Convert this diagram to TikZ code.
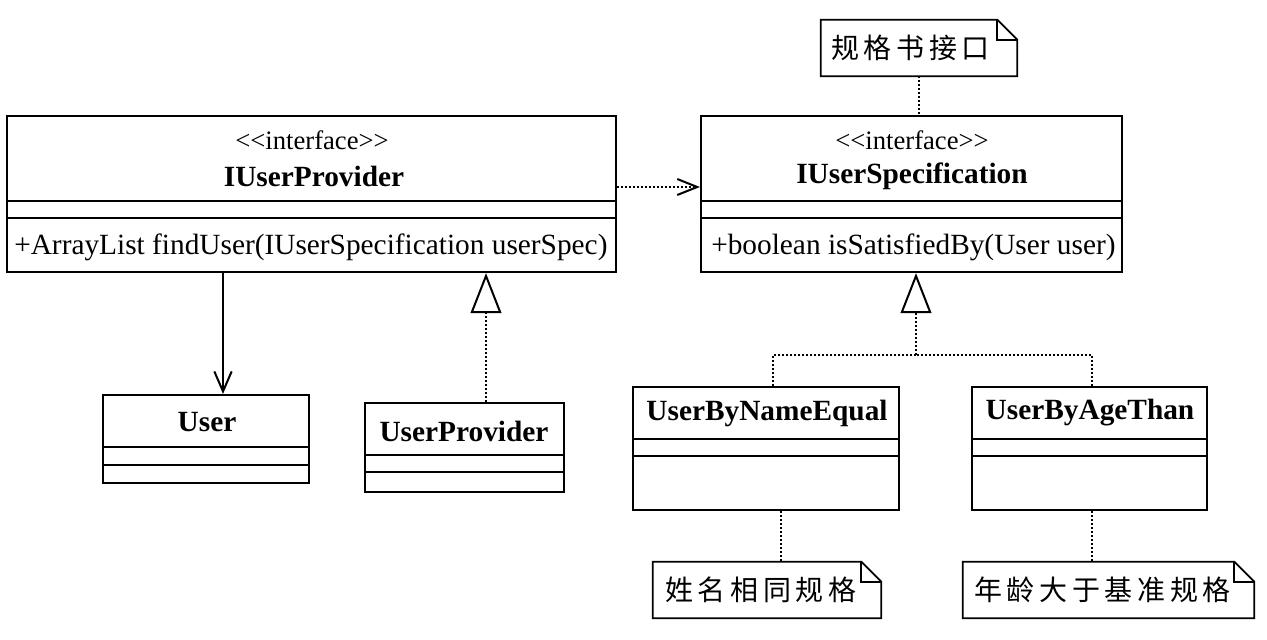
\documentclass[tikz,border=0pt]{standalone}
\usepackage{fontspec}
\setmainfont{Liberation Serif}
\newfontfamily\cjk{Noto Sans CJK SC}
\usetikzlibrary{arrows.meta,fit}
\begin{document}
\begin{tikzpicture}[x=0.75pt,y=-0.75pt,
  box/.style={draw, line width=1.6pt, inner sep=0pt},
  sepline/.style={line width=1.6pt},
  dots/.style={line width=1.5pt, dash pattern=on 1.5pt off 1.5pt},
  notebd/.style={line width=1.3pt, line join=miter},
  stereo/.style={font=\fontsize{20}{22}\selectfont, inner sep=0pt},
  cname/.style={font=\fontsize{22}{26}\selectfont\bfseries, inner sep=0pt},
  member/.style={font=\fontsize{22}{26}\selectfont, anchor=west, inner sep=0pt},
  notetxt/.style={font=\cjk\fontsize{21}{24}\selectfont, anchor=west, inner sep=0pt},
  assoc/.style={line width=1.5pt, -{Straight Barb[length=15pt,width=13pt,line width=1.5pt]}},
  depend/.style={dots, -{Straight Barb[length=15pt,width=12pt,line width=1.5pt]}},
  realize/.style={dots, -{Triangle[open,length=30pt,width=23pt,line width=1.5pt]}}
]
\useasboundingbox (0,0) rectangle (1267,639);
% helper x positions
\coordinate (xa) at (223,0);
\coordinate (xr) at (486,0);
\coordinate (xt) at (916,0);
\coordinate (xn2) at (781,0);
\coordinate (xn3) at (1092,0);
\coordinate (xl) at (773,0);
\coordinate (yd) at (0,187);
\coordinate (j) at (916,355);

% ---- class boxes ----
\node[box, fit={(7,116) (616,272)}] (iup) {};
\node[box, fit={(701,116) (1122,272)}] (ius) {};
\node[box, fit={(103,395) (309,483)}] (user) {};
\node[box, fit={(365,403) (564,492)}] (up) {};
\node[box, fit={(633,387) (899,510)}] (ubn) {};
\node[box, fit={(972,387) (1207,510)}] (uba) {};

% separators
\foreach \b/\ya/\yb in {iup/201/218, ius/201/218, user/447/465, up/455/472, ubn/439/456, uba/439/456}{
  \draw[sepline] (\b.west |- 0,\ya) -- (\b.east |- 0,\ya);
  \draw[sepline] (\b.west |- 0,\yb) -- (\b.east |- 0,\yb);
}

% texts
\node[stereo] (iups) at (312,140) {<{}<interface>{}>};
\node[cname] (iupn) at (314,176) {IUserProvider};
\node[member] (iupm) at (14,247) {+ArrayList findUser(IUserSpecification userSpec)};
\node[stereo] (iuss) at (912,140) {<{}<interface>{}>};
\node[cname] (iusn) at (912,176) {IUserSpecification};
\node[member] (iusm) at (711,247) {+boolean isSatisfiedBy(User user)};
\node[cname] (usern) at (207,422) {User};
\node[cname] (upn) at (464,431) {UserProvider};
\node[cname] (ubnn) at (767,413) {UserByNameEqual};
\node[cname] (uban) at (1090,413) {UserByAgeThan};

% ---- notes ----
\node[inner sep=0pt, fit={(821,20) (1017,76)}] (n1) {};
\node[inner sep=0pt, fit={(653,562) (881,618)}] (n2) {};
\node[inner sep=0pt, fit={(963,562) (1254,618)}] (n3) {};
\foreach \n in {n1,n2,n3}{
  \draw[notebd] (\n.north west) -- ([xshift=-15pt]\n.north east) -- ([yshift=-15pt]\n.north east)
    -- (\n.south east) -- (\n.south west) -- cycle;
  \draw[notebd] ([xshift=-15pt]\n.north east) -- ([xshift=-15pt,yshift=-15pt]\n.north east)
    -- ([yshift=-15pt]\n.north east);
}
\node[notetxt] (n1t) at (831,48) {规\,格\,书\,接\,口};
\node[notetxt] (n2t) at (665,590) {姓\,名\,相\,同\,规\,格};
\node[notetxt] (n3t) at (974,590) {年\,龄\,大\,于\,基\,准\,规\,格};

% ---- connectors ----
\draw[dots] (n1.south) -- (n1.south |- ius.north);
\draw[dots] (ubn.south -| xn2) -- (n2.north -| xn2);
\draw[dots] (uba.south -| xn3) -- (n3.north -| xn3);
\draw[assoc] (iup.south -| xa) -- (user.north -| xa);
\draw[depend] (iup.east |- yd) -- (ius.west |- yd);
\draw[realize] (up.north -| xr) -- (iup.south -| xr);
\draw[dots] (ubn.north -| xl) |- (j);
\draw[dots] (uba.north -| xn3) |- (j);
\draw[realize] (j) -- (ius.south -| xt);
\end{tikzpicture}
\end{document}
